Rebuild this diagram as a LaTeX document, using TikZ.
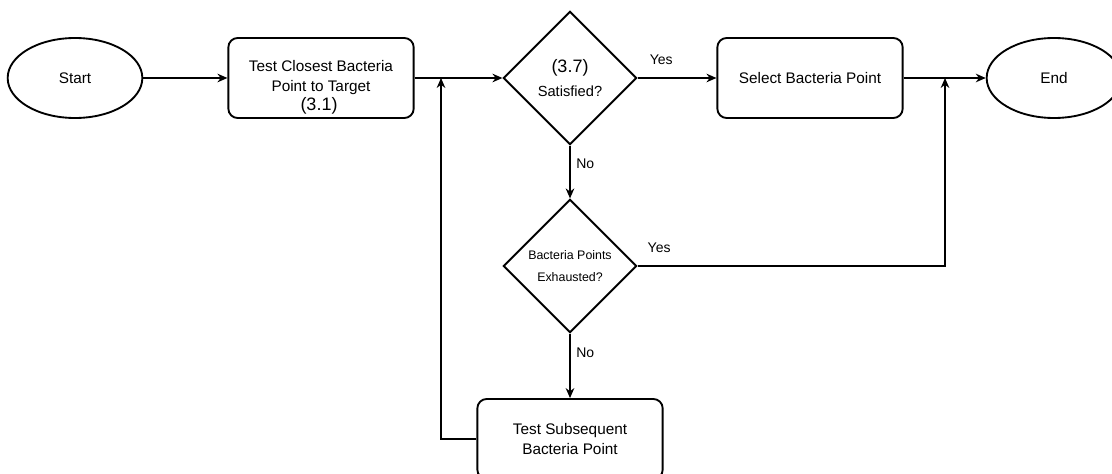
\documentclass[tikz,border=0pt]{standalone}
\usepackage{fontspec}
\setmainfont{Liberation Sans}
\usetikzlibrary{shapes.geometric,arrows.meta}

\tikzset{
  term/.style={draw, line width=1.4pt, ellipse, minimum width=101pt, minimum height=60pt, inner sep=0pt, font=\fontsize{11.5}{15}\selectfont},
  proc/.style={draw, line width=1.4pt, rounded corners=7pt, minimum width=139pt, minimum height=60pt, inner sep=0pt, align=center, font=\fontsize{11.5}{15}\selectfont},
  decide/.style={draw, line width=1.4pt, diamond, minimum width=100pt, minimum height=100pt, inner sep=0pt, align=center},
  link/.style={-{Stealth[length=7.5pt,width=6.5pt]}, line width=0.9pt},
  tag/.style={font=\fontsize{10.5}{12}\selectfont}
}

\begin{document}
\begin{tikzpicture}[x=0.75pt, y=-0.75pt]
  \useasboundingbox (0,0) rectangle (1112,474);

  % main row
  \node[term] (start) at (75,78) {Start};
  \node[proc] (closest) at (321,78) {Test Closest Bacteria\\Point to Target};
  \node[font=\fontsize{13.5}{15}\selectfont] (closestnum) at (319,106) {(3.1)};
  \node[decide] (satis) at (570,78) {\fontsize{13.5}{15}\selectfont(3.7)\\[6pt]\fontsize{11}{13}\selectfont Satisfied?};
  \node[proc] (select) at (810,78) {Select Bacteria Point};
  \node[term] (end) at (1054,78) {End};

  % lower column
  \node[decide] (exhaust) at (570,266) {\fontsize{9.3}{10}\selectfont Bacteria Points\\[5pt]\fontsize{9.3}{10}\selectfont Exhausted?};
  \node[proc] (subseq) at (570,439) {Test Subsequent\\Bacteria Point};

  \coordinate (jleft) at (441,78);
  \coordinate (jright) at (945,78);

  % connectors
  \draw[link] (start) -- (closest);
  \draw[link] (closest) -- (satis);
  \draw[link] (satis) -- node[tag, pos=0.3, above, yshift=6pt] {Yes} (select);
  \draw[link] (select) -- (end);
  \draw[link] (satis) -- node[tag, pos=0.35, right, xshift=1pt] {No} (exhaust);
  \draw[link] (exhaust) -- node[tag, pos=0.3, right, xshift=1pt] {No} (subseq);
  \draw[link] (subseq.west) -| (jleft);
  \draw[link] (exhaust.east) -| node[tag, pos=0.035, above, yshift=6pt] {Yes} (jright);
\end{tikzpicture}
\end{document}
